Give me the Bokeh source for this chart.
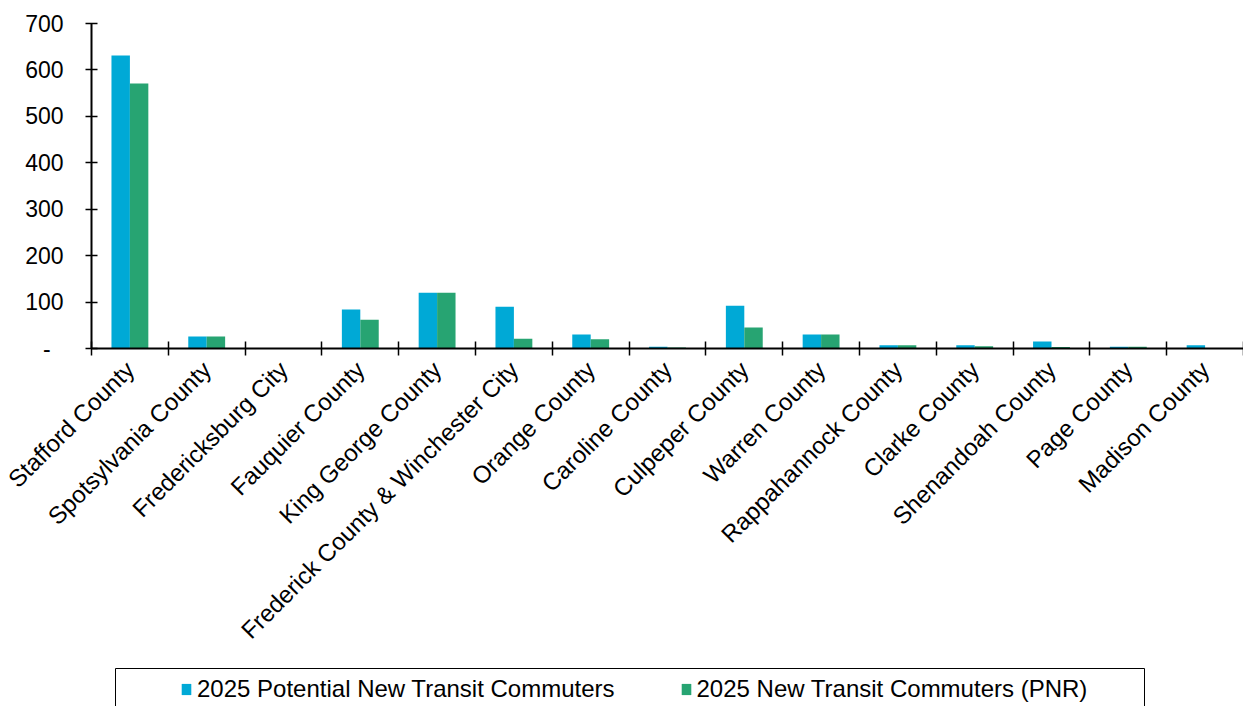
import math
from bokeh.plotting import figure
from bokeh.layouts import column
from bokeh.models import Range1d, FixedTicker, Legend, LegendItem, ColumnDataSource
from bokeh.transform import dodge
from bokeh.embed import file_html
from bokeh.resources import INLINE

counties = ["Stafford County", "Spotsylvania County", "Fredericksburg City", "Fauquier County",
            "King George County", "Frederick County & Winchester City", "Orange County",
            "Caroline County", "Culpeper County", "Warren County", "Rappahannock County",
            "Clarke County", "Shenandoah County", "Page County", "Madison County"]
potential = [631, 26, 0, 84, 120, 90, 30, 4, 92, 30, 7, 7, 15, 4, 7]
pnr = [571, 26, 0, 62, 120, 21, 20, 2, 45, 30, 7, 5, 3, 4, 0]
y_ticks = [0, 100, 200, 300, 400, 500, 600, 700]
y_labels = ["-\u00a0\u00a0", "100", "200", "300", "400", "500", "600", "700"]
series_names = ["2025 Potential New Transit Commuters", "2025 New Transit Commuters (PNR)"]
colors = ["#00A9D6", "#27A472"]

FONT = "Liberation Sans"
n = len(counties)
centers = [i + 0.5 for i in range(n)]
src = ColumnDataSource(dict(x=centers, county=counties, potential=potential, pnr=pnr))

p = figure(width=1243, height=668, x_range=Range1d(0, n), y_range=Range1d(0, 700),
           output_backend="svg", toolbar_location=None,
           min_border_left=91, min_border_right=0, min_border_top=23, min_border_bottom=320)
p.background_fill_color = "white"
p.border_fill_color = "white"
p.outline_line_color = None
p.grid.visible = False

r1 = p.vbar(x=dodge("x", -0.12, range=p.x_range), top="potential", width=0.24, source=src,
            fill_color=colors[0], line_color=None)
r2 = p.vbar(x=dodge("x", 0.12, range=p.x_range), top="pnr", width=0.24, source=src,
            fill_color=colors[1], line_color=None)

# x axis: labels at category centres, ticks at category boundaries (minor ticks)
xa = p.xaxis[0]
xa.ticker = FixedTicker(ticks=centers, minor_ticks=list(range(n + 1)))
xa.major_label_overrides = {float(c): name for c, name in zip(centers, counties)}
xa.major_label_orientation = math.pi / 4
xa.major_tick_line_color = None
xa.major_tick_in = 0
xa.major_tick_out = 0
xa.minor_tick_in = 7
xa.minor_tick_out = 7
xa.minor_tick_line_color = "black"
xa.minor_tick_line_width = 1.5
xa.axis_line_color = "black"
xa.axis_line_width = 2
xa.major_label_text_font = FONT
xa.major_label_text_font_size = "24px"
xa.major_label_text_color = "black"
xa.major_label_standoff = 10

# y axis
ya = p.yaxis[0]
ya.ticker = FixedTicker(ticks=y_ticks, minor_ticks=[])
ya.major_label_overrides = {t: l for t, l in zip(y_ticks, y_labels)}
ya.major_tick_in = 6
ya.major_tick_out = 6
ya.major_tick_line_color = "black"
ya.major_tick_line_width = 1.5
ya.minor_tick_line_color = None
ya.axis_line_color = "black"
ya.axis_line_width = 2
ya.major_label_text_font = FONT
ya.major_label_text_font_size = "23px"
ya.major_label_text_color = "black"
ya.major_label_standoff = 22

# legend strip: its own small figure, whose frame outline is the legend box
# (the column aligns its frame with the main plot's frame, which adds 91 px on the left)
p2 = figure(width=1121, height=40, x_range=Range1d(0, 1), y_range=Range1d(0, 1),
            x_axis_location=None, y_axis_location=None,
            output_backend="svg", toolbar_location=None,
            min_border_left=0, min_border_right=0, min_border_top=0, min_border_bottom=0)
p2.margin = (0, 0, 0, 24)
p2.grid.visible = False
p2.outline_line_color = "black"
p2.outline_line_width = 1
p2.background_fill_color = "white"
p2.border_fill_color = "white"
k1 = p2.vbar(x=[5], top=[5], width=0.1, fill_color=colors[0], line_color=None)
k2 = p2.vbar(x=[5], top=[5], width=0.1, fill_color=colors[1], line_color=None)
leg = Legend(items=[LegendItem(label=series_names[0], renderers=[k1]),
                    LegendItem(label=series_names[1], renderers=[k2])],
             location=(65, 5), orientation="horizontal", padding=0, margin=0,
             spacing=65, glyph_width=12, glyph_height=14, label_standoff=5,
             border_line_color=None, background_fill_alpha=0,
             label_text_font=FONT, label_text_font_size="24px", label_text_color="black")
p2.add_layout(leg)

layout = column(p, p2, spacing=0)
open("out.html", "w").write(file_html(layout, INLINE))
